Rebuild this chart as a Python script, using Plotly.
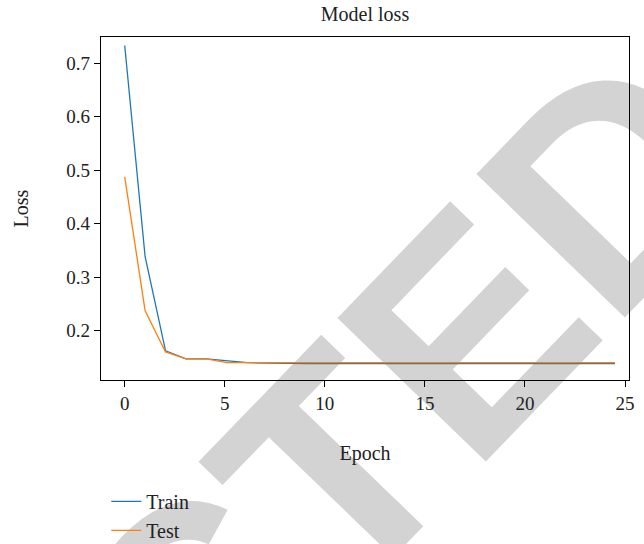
import plotly.graph_objects as go

epochs = [0, 1.02, 2.04, 3.06, 4.08, 5.1, 6.13, 7.15, 8.17, 9.19, 10.21, 11.23,
          12.25, 13.27, 14.29, 15.31, 16.33, 17.35, 18.38, 19.4, 20.42, 21.44,
          22.46, 23.48, 24.5]
train_loss = [0.733, 0.338, 0.162, 0.147, 0.147, 0.143, 0.140, 0.139, 0.138,
              0.138, 0.138, 0.138, 0.138, 0.138, 0.138, 0.138, 0.138, 0.138,
              0.138, 0.138, 0.138, 0.138, 0.138, 0.138, 0.138]
test_loss = [0.4875, 0.237, 0.160, 0.147, 0.147, 0.140, 0.140, 0.140, 0.140,
             0.140, 0.140, 0.140, 0.140, 0.140, 0.140, 0.140, 0.140, 0.140,
             0.140, 0.140, 0.140, 0.140, 0.140, 0.140, 0.140]
x_ticks = [0, 5, 10, 15, 20, 25]
y_ticks = [0.2, 0.3, 0.4, 0.5, 0.6, 0.7]

FONT = "Liberation Serif"

fig = go.Figure()
fig.add_trace(go.Scatter(x=epochs, y=train_loss, mode="lines", name="Train",
                         line=dict(color="#1f77b4", width=1.3)))
fig.add_trace(go.Scatter(x=epochs, y=test_loss, mode="lines", name="Test",
                         line=dict(color="#ff7f0e", width=1.3)))

axis_common = dict(showgrid=False, zeroline=False, showline=True, linecolor="black",
                   linewidth=1.2, mirror=True, ticks="outside", ticklen=6,
                   tickwidth=1.2, tickcolor="black",
                   tickfont=dict(family=FONT, size=19, color="#222"))

fig.update_xaxes(range=[-1.185, 25.2], tickvals=x_ticks,
                 title=dict(text="Epoch", font=dict(family=FONT, size=20, color="#222"),
                            standoff=33),
                 **axis_common)
fig.update_yaxes(range=[0.1075, 0.749], tickvals=y_ticks,
                 ticktext=[f"{v:.1f}" for v in y_ticks],
                 title=dict(text="Loss", font=dict(family=FONT, size=20, color="#222"),
                            standoff=32),
                 **axis_common)

# watermark, drawn beneath the data as the label of an invisible shape
fig.add_shape(type="line", xref="paper", yref="paper",
              x0=-0.151, y0=-1.078, x1=-0.141, y1=-1.078, layer="below",
              line=dict(width=0, color="rgba(0,0,0,0)"),
              label=dict(text="<b>RETRACTED</b>", textangle=-46,
                         textposition="middle", xanchor="center", yanchor="middle",
                         font=dict(family="Liberation Sans", size=300, color="#d3d3d3")))

fig.update_layout(
    width=644, height=544,
    margin=dict(l=101, r=15, t=37, b=164, autoexpand=False),
    paper_bgcolor="white", plot_bgcolor="rgba(0,0,0,0)",
    title=dict(text="Model loss", x=0.5, xref="paper", xanchor="center",
               y=0.974, yref="container", yanchor="middle",
               font=dict(family=FONT, size=20, color="#222")),
    showlegend=True,
    legend=dict(x=0.01, xanchor="left", y=-0.297, yanchor="top",
                bgcolor="rgba(0,0,0,0)", font=dict(family=FONT, size=20, color="#222"),
                tracegroupgap=0),
)

fig.write_html("out.html", config={"displayModeBar": False},
               post_script="document.body.style.margin='0';")
